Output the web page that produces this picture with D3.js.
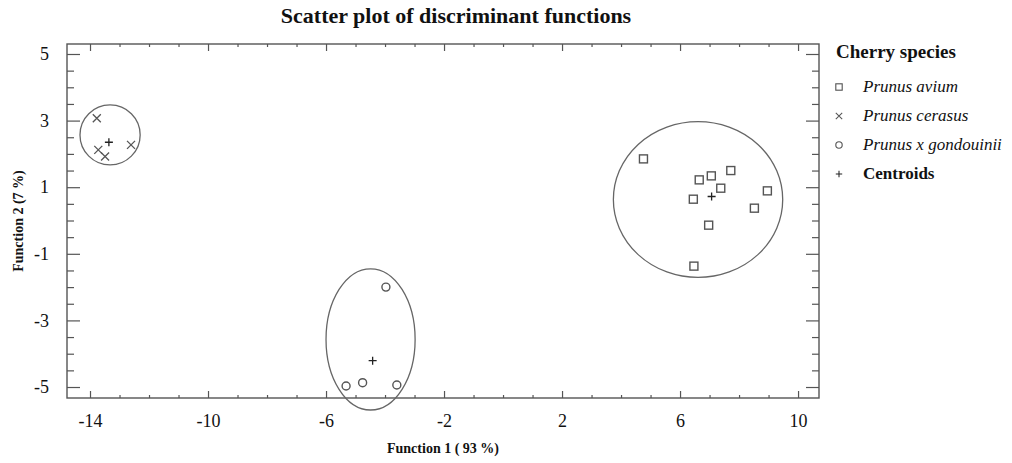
<!DOCTYPE html>
<html>
<head>
<meta charset="utf-8">
<script src="https://cdn.jsdelivr.net/npm/d3@7"></script>
<style>
  body { margin: 0; background: #fff; }
  svg text { font-family: "Liberation Serif", "Times New Roman", serif; fill: #111; }
</style>
</head>
<body>
<div id="chart"></div>
<script>
// Discriminant function scores per group (Function 1, Function 2)
const avium = [[4.76, 1.85], [6.65, 1.22], [7.06, 1.34], [7.72, 1.5], [7.38, 0.97],
  [8.96, 0.89], [6.45, 0.64], [8.52, 0.37], [6.97, -0.14], [6.47, -1.37]];
const cerasus = [[-13.77, 3.07], [-13.72, 2.12], [-13.49, 1.92], [-12.61, 2.27]];
const gondouinii = [[-3.97, -2.0], [-5.32, -4.97], [-4.76, -4.87], [-3.6, -4.94]];
const centroids = [[7.07, 0.72], [-13.36, 2.35], [-4.42, -4.21]];
// group ellipses: centre and radii in function units
const ellipses = [
  { cx: 6.61, cy: 0.63, rx: 2.87, ry: 2.34 },
  { cx: -13.32, cy: 2.57, rx: 1.02, ry: 0.9 },
  { cx: -4.49, cy: -3.57, rx: 1.51, ry: 2.12 },
];
const xTicks = [-14, -10, -6, -2, 2, 6, 10];
const yTicks = [-5, -3, -1, 1, 3, 5];
const legendLabels = ["Prunus avium", "Prunus cerasus", "Prunus x gondouinii", "Centroids"];

(function () {
  const width = 1012;
  const height = 463;
  const left = 67, right = 819, top = 44, bottom = 398;
  const grey = "#555";

  const svg = d3.select("#chart").append("svg")
    .attr("width", width).attr("height", height);

  const x = d3.scaleLinear().domain([-14.78, 10.71]).range([left, right]);
  const y = d3.scaleLinear().domain([-5.33, 5.3]).range([bottom, top]);

  const xMinor = d3.range(-14, 11, 1).filter((v) => !xTicks.includes(v));
  const yMinor = d3.range(-5, 5.01, 0.5).filter((v) => !yTicks.includes(v));
  const plain = (d) => String(d); // keep ascii hyphen for negatives

  function axisGroup(axis, tx, ty) {
    const g = svg.append("g").attr("transform", `translate(${tx},${ty})`).call(axis);
    g.select(".domain").remove();
    g.selectAll("line").attr("stroke", grey).attr("stroke-width", 1.2);
    g.selectAll("text")
      .attr("font-family", "Liberation Serif")
      .attr("font-size", 18)
      .attr("fill", "#111");
    return g;
  }

  // bottom / top
  axisGroup(d3.axisBottom(x).tickValues(xTicks).tickSizeInner(-7).tickSizeOuter(0)
    .tickPadding(16).tickFormat(plain), 0, bottom);
  axisGroup(d3.axisBottom(x).tickValues(xMinor).tickSizeInner(-3).tickSizeOuter(0)
    .tickFormat(""), 0, bottom);
  axisGroup(d3.axisTop(x).tickValues(xTicks).tickSizeInner(-7).tickSizeOuter(0)
    .tickFormat(""), 0, top);
  axisGroup(d3.axisTop(x).tickValues(xMinor).tickSizeInner(-3).tickSizeOuter(0)
    .tickFormat(""), 0, top);
  // left / right
  axisGroup(d3.axisLeft(y).tickValues(yTicks).tickSizeInner(-13).tickSizeOuter(0)
    .tickPadding(18).tickFormat(plain), left, 0);
  axisGroup(d3.axisLeft(y).tickValues(yMinor).tickSizeInner(-7).tickSizeOuter(0)
    .tickFormat(""), left, 0);
  axisGroup(d3.axisRight(y).tickValues(yTicks).tickSizeInner(-13).tickSizeOuter(0)
    .tickFormat(""), right, 0);
  axisGroup(d3.axisRight(y).tickValues(yMinor).tickSizeInner(-7).tickSizeOuter(0)
    .tickFormat(""), right, 0);

  svg.append("rect")
    .attr("x", left).attr("y", top)
    .attr("width", right - left).attr("height", bottom - top)
    .attr("fill", "none").attr("stroke", grey).attr("stroke-width", 1.4);

  // ellipses
  svg.append("g").selectAll("ellipse")
    .data(ellipses)
    .join("ellipse")
    .attr("cx", (d) => x(d.cx))
    .attr("cy", (d) => y(d.cy))
    .attr("rx", (d) => x(d.cx + d.rx) - x(d.cx))
    .attr("ry", (d) => y(d.cy) - y(d.cy + d.ry))
    .attr("fill", "none")
    .attr("stroke", "#666")
    .attr("stroke-width", 1.3);

  const square = (g) => g.append("rect").attr("x", -4).attr("y", -4).attr("width", 8).attr("height", 8)
    .attr("fill", "none").attr("stroke", grey).attr("stroke-width", 1.4);
  const cross = (g) => g.append("path").attr("d", "M-4,-4L4,4M-4,4L4,-4")
    .attr("fill", "none").attr("stroke", grey).attr("stroke-width", 1.3);
  const ring = (g) => g.append("circle").attr("r", 4)
    .attr("fill", "none").attr("stroke", grey).attr("stroke-width", 1.4);
  const plus = (g) => g.append("path").attr("d", "M-4,0L4,0M0,-4L0,4")
    .attr("fill", "none").attr("stroke", "#222").attr("stroke-width", 1.3);

  const groups = [
    { data: avium, draw: square },
    { data: cerasus, draw: cross },
    { data: gondouinii, draw: ring },
    { data: centroids, draw: plus },
  ];

  groups.forEach((grp) => {
    svg.append("g").selectAll("g")
      .data(grp.data)
      .join("g")
      .attr("transform", (d) => `translate(${x(d[0])},${y(d[1])})`)
      .call(grp.draw);
  });

  // titles
  svg.append("text")
    .attr("x", 456).attr("y", 23)
    .attr("text-anchor", "middle")
    .attr("font-size", 22).attr("font-weight", "bold")
    .text("Scatter plot of discriminant functions");

  svg.append("text")
    .attr("x", (left + right) / 2).attr("y", 453)
    .attr("text-anchor", "middle")
    .attr("font-size", 14).attr("font-weight", "bold")
    .text("Function 1 ( 93 %)");

  svg.append("text")
    .attr("transform", `translate(23,${(top + bottom) / 2}) rotate(-90)`)
    .attr("text-anchor", "middle")
    .attr("font-size", 14).attr("font-weight", "bold")
    .text("Function 2 (7 %)");

  // legend
  const legend = svg.append("g").attr("transform", "translate(836,0)");
  legend.append("text")
    .attr("x", 0).attr("y", 58)
    .attr("font-size", 19).attr("font-weight", "bold")
    .text("Cherry species");

  const item = legend.selectAll("g.item")
    .data(legendLabels)
    .join("g")
    .attr("class", "item")
    .attr("transform", (d, i) => `translate(3,${87 + i * 29})`);

  item.each(function (d, i) {
    const g = d3.select(this);
    const sym = g.append("g").attr("transform", "scale(0.8)");
    groups[i].draw(sym);
    g.append("text")
      .attr("x", 24).attr("y", 5)
      .attr("font-size", 17)
      .attr("font-style", i < 3 ? "italic" : "normal")
      .attr("font-weight", i < 3 ? "normal" : "bold")
      .text(d);
  });
})();
</script>
</body>
</html>
